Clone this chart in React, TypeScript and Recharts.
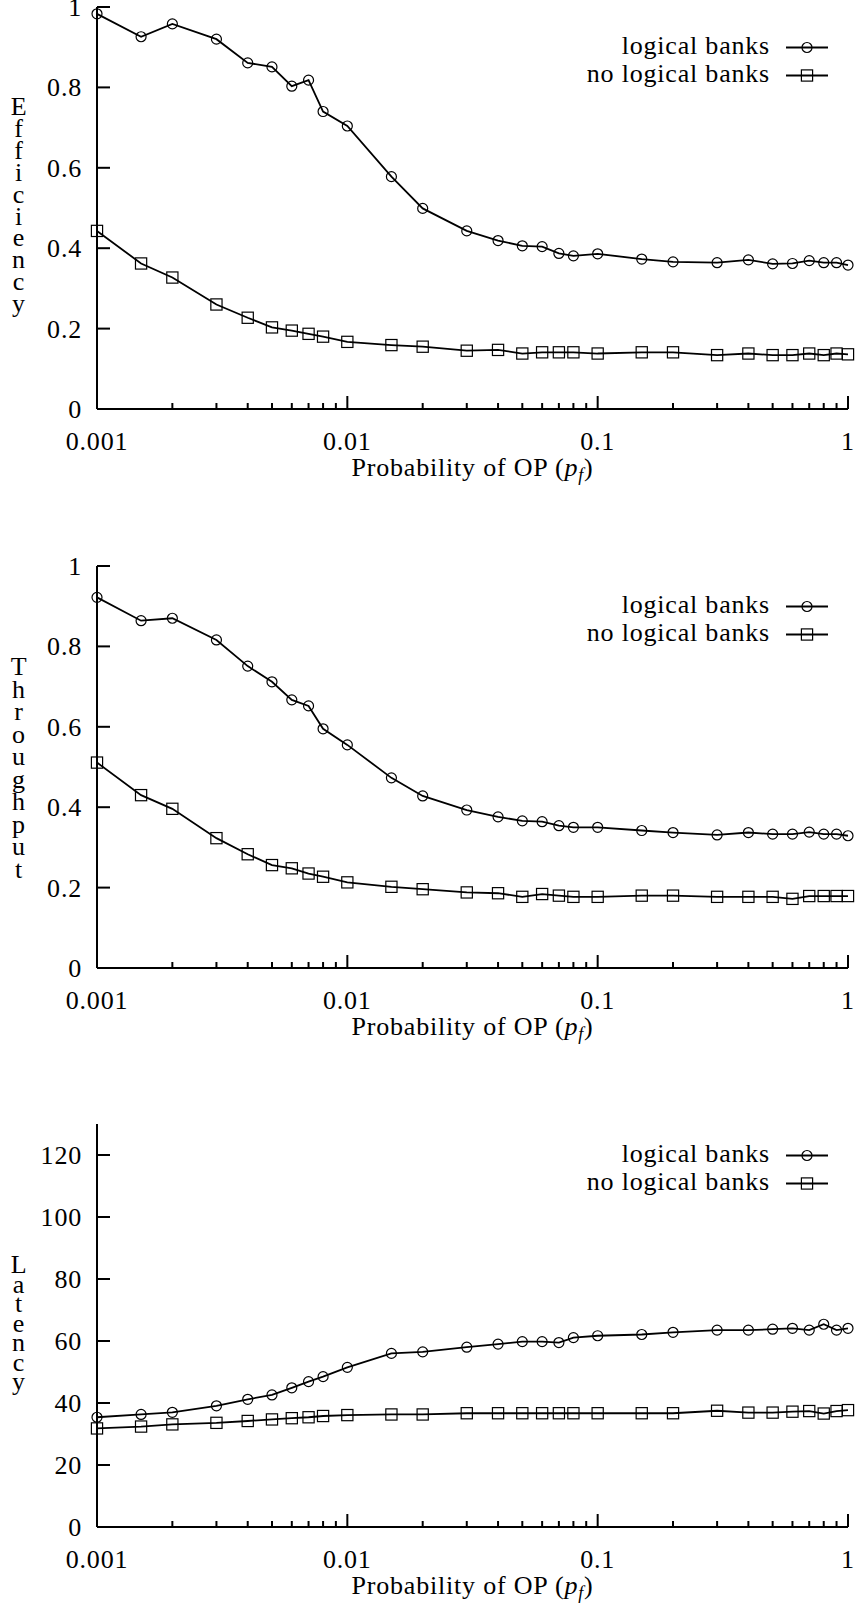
import React from 'react';
import { LineChart, Line, XAxis, YAxis, Legend, Label } from 'recharts';

// probability of OP (p_f), shared by all three panels
const pf = [
  0.001, 0.0015, 0.002, 0.003, 0.004, 0.005, 0.006, 0.007, 0.008,
  0.01, 0.015, 0.02, 0.03, 0.04, 0.05, 0.06, 0.07, 0.08,
  0.1, 0.15, 0.2, 0.3, 0.4, 0.5, 0.6, 0.7, 0.8, 0.9, 1,
];

const effBanks = [
  0.983, 0.926, 0.958, 0.92, 0.861, 0.851, 0.803, 0.818, 0.74,
  0.704, 0.578, 0.499, 0.443, 0.419, 0.406, 0.404, 0.387, 0.381,
  0.386, 0.373, 0.366, 0.364, 0.371, 0.361, 0.362, 0.369, 0.364, 0.364, 0.358,
];
const effNoBanks = [
  0.443, 0.362, 0.327, 0.26, 0.227, 0.203, 0.195, 0.187, 0.18,
  0.167, 0.159, 0.155, 0.145, 0.147, 0.138, 0.141, 0.141, 0.141,
  0.138, 0.141, 0.141, 0.134, 0.138, 0.134, 0.134, 0.138, 0.134, 0.138, 0.136,
];

const thrBanks = [
  0.922, 0.864, 0.87, 0.816, 0.751, 0.712, 0.667, 0.652, 0.595,
  0.555, 0.473, 0.428, 0.393, 0.376, 0.366, 0.364, 0.354, 0.35,
  0.35, 0.342, 0.337, 0.331, 0.337, 0.333, 0.333, 0.338, 0.333, 0.333, 0.329,
];
const thrNoBanks = [
  0.511, 0.43, 0.396, 0.323, 0.283, 0.256, 0.248, 0.235, 0.227,
  0.213, 0.202, 0.196, 0.188, 0.186, 0.177, 0.184, 0.18, 0.177,
  0.177, 0.18, 0.18, 0.177, 0.177, 0.177, 0.172, 0.179, 0.179, 0.179, 0.179,
];

const latBanks = [
  35.4, 36.3, 37.0, 39.1, 41.2, 42.6, 44.9, 46.9, 48.5,
  51.5, 56.0, 56.5, 58.0, 59.0, 59.8, 59.8, 59.5, 61.1,
  61.7, 62.1, 62.8, 63.5, 63.5, 63.8, 64.1, 63.5, 65.4, 63.5, 64.1,
];
const latNoBanks = [
  31.8, 32.4, 33.1, 33.6, 34.2, 34.7, 35.1, 35.4, 35.8,
  36.1, 36.3, 36.3, 36.7, 36.7, 36.7, 36.7, 36.7, 36.7,
  36.7, 36.7, 36.7, 37.5, 36.9, 36.9, 37.2, 37.4, 36.6, 37.4, 37.7,
];

const xTicks = [
  0.001, 0.002, 0.003, 0.004, 0.005, 0.006, 0.007, 0.008, 0.009,
  0.01, 0.02, 0.03, 0.04, 0.05, 0.06, 0.07, 0.08, 0.09,
  0.1, 0.2, 0.3, 0.4, 0.5, 0.6, 0.7, 0.8, 0.9, 1,
];
const xMajor = [0.001, 0.01, 0.1, 1];
const xMajorLabels = ['0.001', '0.01', '0.1', '1'];

const fracTicks = [0, 0.2, 0.4, 0.6, 0.8, 1];
const latTicks = [0, 20, 40, 60, 80, 100, 120];

const font = { fontFamily: "'Liberation Serif', 'Times New Roman', serif", fontSize: 26, letterSpacing: 0.8 };
const axisStyle = { stroke: '#000', strokeWidth: 2 };

const Circle = ({ cx, cy }: { cx: number; cy: number }) => (
  <circle cx={cx} cy={cy} r={5} fill="none" stroke="#000" strokeWidth={1.2} />
);
const Square = ({ cx, cy }: { cx: number; cy: number }) => (
  <rect x={cx - 5.6} y={cy - 5.6} width={11.2} height={11.2} fill="none" stroke="#000" strokeWidth={1.2} />
);

const leftTick = (props: any) => {
  const { y, payload } = props;
  return (
    <g>
      <line x1={97} y1={y} x2={110} y2={y} stroke="#000" strokeWidth={2} />
      <text x={82} y={y + 9} textAnchor="end" fill="#000" style={font}>
        {String(payload.value)}
      </text>
    </g>
  );
};

const rightTick = (props: any) => {
  const { y } = props;
  return <line x1={848} y1={y} x2={835} y2={y} stroke="#000" strokeWidth={2} />;
};

const xTitle = (props: any) => {
  const vb = props.viewBox;
  return (
    <text x={vb.x + vb.width / 2} y={vb.y + 67} textAnchor="middle" fill="#000" style={font}>
      Probability of OP (
      <tspan fontStyle="italic">p</tspan>
      <tspan fontStyle="italic" fontSize={18} dy={5}>f</tspan>
      <tspan dy={-5}>)</tspan>
    </text>
  );
};

interface PanelProps {
  top: number;
  height: number;
  plotTop: number;
  plotBottom: number;
  title: string;
  titleStart: number;
  titleStep: number;
  banks: number[];
  noBanks: number[];
  yDomain: [number, number];
  yTicks: number[];
  legendY: number[];
}

const Panel = (p: PanelProps) => {
  const data = pf.map((x, i) => ({ x, a: p.banks[i], b: p.noBanks[i] }));
  const mTop = p.plotTop - p.top;
  const bottomY = p.plotBottom - p.top;
  const axisH = p.height - bottomY;

  const bottomTick = (props: any) => {
    const { x, payload } = props;
    const i = xMajor.indexOf(payload.value);
    const major = i >= 0;
    return (
      <g>
        <line x1={x} y1={bottomY} x2={x} y2={bottomY - (major ? 13 : 6)} stroke="#000" strokeWidth={2} />
        {major && (
          <text x={x} y={bottomY + 41} textAnchor="middle" fill="#000" style={font}>
            {xMajorLabels[i]}
          </text>
        )}
      </g>
    );
  };

  const topTick = (props: any) => {
    const { x, payload } = props;
    const major = xMajor.indexOf(payload.value) >= 0;
    return <line x1={x} y1={mTop} x2={x} y2={mTop + (major ? 13 : 6)} stroke="#000" strokeWidth={2} />;
  };

  const yTitle = (props: any) => {
    const vb = props.viewBox;
    return (
      <text textAnchor="middle" fill="#000" style={font}>
        {p.title.split('').map((ch, i) => (
          <tspan key={i} x={19} y={vb.y + p.titleStart + i * p.titleStep}>
            {ch}
          </tspan>
        ))}
      </text>
    );
  };

  const legend = (props: any) => {
    const items = [...(props.payload || [])].sort((u: any, v: any) =>
      String(u.value).localeCompare(String(v.value))
    );
    return (
      <svg width={857} height={mTop + 100} style={{ display: 'block' }}>
        {items.map((e: any, i: number) => {
          const by = mTop + p.legendY[i];
          const ly = by - 6.5;
          return (
            <g key={e.value}>
              <text x={770} y={by} textAnchor="end" fill="#000" style={font}>
                {e.value}
              </text>
              <line x1={786} y1={ly} x2={828} y2={ly} stroke="#000" strokeWidth={1.8} />
              {e.dataKey === 'a' ? <Circle cx={807} cy={ly} /> : <Square cx={807} cy={ly} />}
            </g>
          );
        })}
      </svg>
    );
  };

  return (
    <div style={{ position: 'absolute', left: 0, top: p.top }}>
      <LineChart width={857} height={p.height} data={data} margin={{ top: mTop, right: 9, bottom: 0, left: 0 }}>
        <XAxis
          xAxisId="b"
          dataKey="x"
          type="number"
          scale="log"
          domain={[0.001, 1]}
          ticks={xTicks}
          interval={0}
          tickSize={0}
          tickMargin={0}
          height={axisH}
          axisLine={axisStyle}
          tickLine={false}
          tick={bottomTick}
        >
          <Label content={xTitle} />
        </XAxis>
        <XAxis
          xAxisId="t"
          orientation="top"
          dataKey="x"
          type="number"
          scale="log"
          domain={[0.001, 1]}
          ticks={xTicks}
          interval={0}
          tickSize={0}
          tickMargin={0}
          height={0}
          axisLine={axisStyle}
          tickLine={false}
          tick={topTick}
        />
        <YAxis
          yAxisId="l"
          type="number"
          domain={p.yDomain}
          ticks={p.yTicks}
          interval={0}
          tickSize={0}
          tickMargin={0}
          width={97}
          axisLine={axisStyle}
          tickLine={false}
          tick={leftTick}
        >
          <Label content={yTitle} />
        </YAxis>
        <YAxis
          yAxisId="r"
          orientation="right"
          type="number"
          domain={p.yDomain}
          ticks={p.yTicks}
          interval={0}
          tickSize={0}
          tickMargin={0}
          width={0}
          axisLine={axisStyle}
          tickLine={false}
          tick={rightTick}
        />
        <Legend
          layout="vertical"
          align="center"
          verticalAlign="middle"
          content={legend}
          wrapperStyle={{ top: 0, left: 0, width: 857, pointerEvents: 'none' }}
        />
        <Line
          xAxisId="b"
          yAxisId="l"
          type="linear"
          dataKey="a"
          name="logical banks"
          stroke="#000"
          strokeWidth={1.8}
          dot={(d: any) => <Circle key={`a${d.index}`} cx={d.cx} cy={d.cy} />}
          activeDot={false}
          isAnimationActive={false}
        />
        <Line
          xAxisId="b"
          yAxisId="l"
          type="linear"
          dataKey="b"
          name="no logical banks"
          stroke="#000"
          strokeWidth={1.8}
          dot={(d: any) => <Square key={`b${d.index}`} cx={d.cx} cy={d.cy} />}
          activeDot={false}
          isAnimationActive={false}
        />
      </LineChart>
    </div>
  );
};

export default function App() {
  return (
    <div style={{ position: 'absolute', left: 0, top: 0, width: 857, height: 1606, background: '#fff' }}>
      <Panel
        top={0}
        height={500}
        plotTop={7}
        plotBottom={409}
        title="Efficiency"
        titleStart={108}
        titleStep={21.9}
        banks={effBanks}
        noBanks={effNoBanks}
        yDomain={[0, 1]}
        yTicks={fracTicks}
        legendY={[47, 75]}
      />
      <Panel
        top={530}
        height={530}
        plotTop={566}
        plotBottom={968}
        title="Throughput"
        titleStart={109}
        titleStep={22.5}
        banks={thrBanks}
        noBanks={thrNoBanks}
        yDomain={[0, 1]}
        yTicks={fracTicks}
        legendY={[47, 75]}
      />
      <Panel
        top={1080}
        height={526}
        plotTop={1124}
        plotBottom={1527}
        title="Latency"
        titleStart={149}
        titleStep={19.5}
        banks={latBanks}
        noBanks={latNoBanks}
        yDomain={[0, 130]}
        yTicks={latTicks}
        legendY={[38, 66]}
      />
    </div>
  );
}
